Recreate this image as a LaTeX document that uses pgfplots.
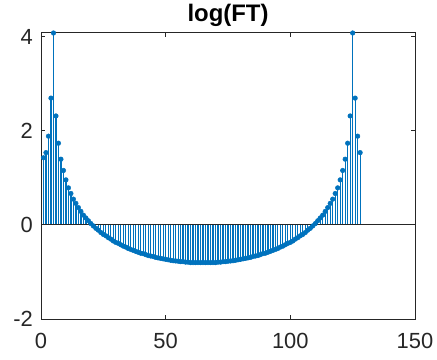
\documentclass[border=0pt]{standalone}
\usepackage{fontspec}
\setmainfont{Liberation Sans}
\usepackage{pgfplots}
\usepackage{pgfplotstable}
\pgfplotsset{compat=1.18}
\definecolor{mblue}{RGB}{0,114,189}
\definecolor{axgray}{RGB}{38,38,38}
\pgfplotstableread{
k v
1 1.43
2 1.54
3 1.89
4 2.70
5 4.085
6 2.32
7 1.74
8 1.40
9 1.16
10 0.96
11 0.79
12 0.67
13 0.55
14 0.46
15 0.37
16 0.29
17 0.21
18 0.15
19 0.09
20 0.03
21 -0.02
22 -0.07
23 -0.11
24 -0.16
25 -0.20
26 -0.23
27 -0.27
28 -0.30
29 -0.34
30 -0.37
31 -0.39
32 -0.42
33 -0.45
34 -0.47
35 -0.50
36 -0.52
37 -0.54
38 -0.56
39 -0.58
40 -0.60
41 -0.61
42 -0.63
43 -0.65
44 -0.66
45 -0.67
46 -0.69
47 -0.70
48 -0.71
49 -0.72
50 -0.73
51 -0.74
52 -0.75
53 -0.76
54 -0.765
55 -0.77
56 -0.78
57 -0.78
58 -0.79
59 -0.79
60 -0.80
61 -0.80
62 -0.80
63 -0.80
64 -0.80
65 -0.80
66 -0.80
67 -0.80
68 -0.80
69 -0.80
70 -0.80
71 -0.79
72 -0.79
73 -0.78
74 -0.78
75 -0.77
76 -0.765
77 -0.76
78 -0.75
79 -0.74
80 -0.73
81 -0.72
82 -0.71
83 -0.70
84 -0.69
85 -0.67
86 -0.66
87 -0.65
88 -0.63
89 -0.61
90 -0.60
91 -0.58
92 -0.56
93 -0.54
94 -0.52
95 -0.50
96 -0.47
97 -0.45
98 -0.42
99 -0.39
100 -0.37
101 -0.34
102 -0.30
103 -0.27
104 -0.23
105 -0.20
106 -0.16
107 -0.11
108 -0.07
109 -0.02
110 0.03
111 0.09
112 0.15
113 0.21
114 0.29
115 0.37
116 0.46
117 0.55
118 0.67
119 0.79
120 0.96
121 1.16
122 1.40
123 1.74
124 2.32
125 4.085
126 2.70
127 1.89
128 1.54
}\fttable
\begin{document}
\begin{tikzpicture}
\begin{axis}[
  scale only axis, width=374bp, height=286bp,
  xmin=0, xmax=150, ymin=-2, ymax=4.085,
  xtick={0,50,100,150}, ytick={-2,0,2,4},
  minor tick num=0,
  tick align=inside,
  major tick length=4bp,
  axis line style={axgray, line width=1bp},
  every tick/.style={axgray, line width=1bp},
  tick label style={font=\fontsize{22}{26}\selectfont, text=axgray, inner sep=0pt},
  /pgf/number format/assume math mode=true,
  xticklabel style={yshift=-14bp},
  yticklabel style={xshift=-8bp},
  title={log(FT)},
  title style={font=\fontsize{24}{28}\selectfont\bfseries, text=black, anchor=base, at={(0.5,1)}, yshift=6bp, inner sep=0pt},
  clip=false,
]
\addplot[mblue, ycomb, line width=1.25bp, mark=*, mark size=2.3bp, mark options={fill=mblue, line width=0.5bp}] table[x=k, y=v] {\fttable};
\addplot[axgray, line width=1bp, mark=none] coordinates {(0,0) (150,0)};
\end{axis}
\path[use as bounding box] ([shift={(-41bp,-41bp)}]current axis.south west) rectangle ([shift={(22bp,33bp)}]current axis.north east);
\end{tikzpicture}
\end{document}
